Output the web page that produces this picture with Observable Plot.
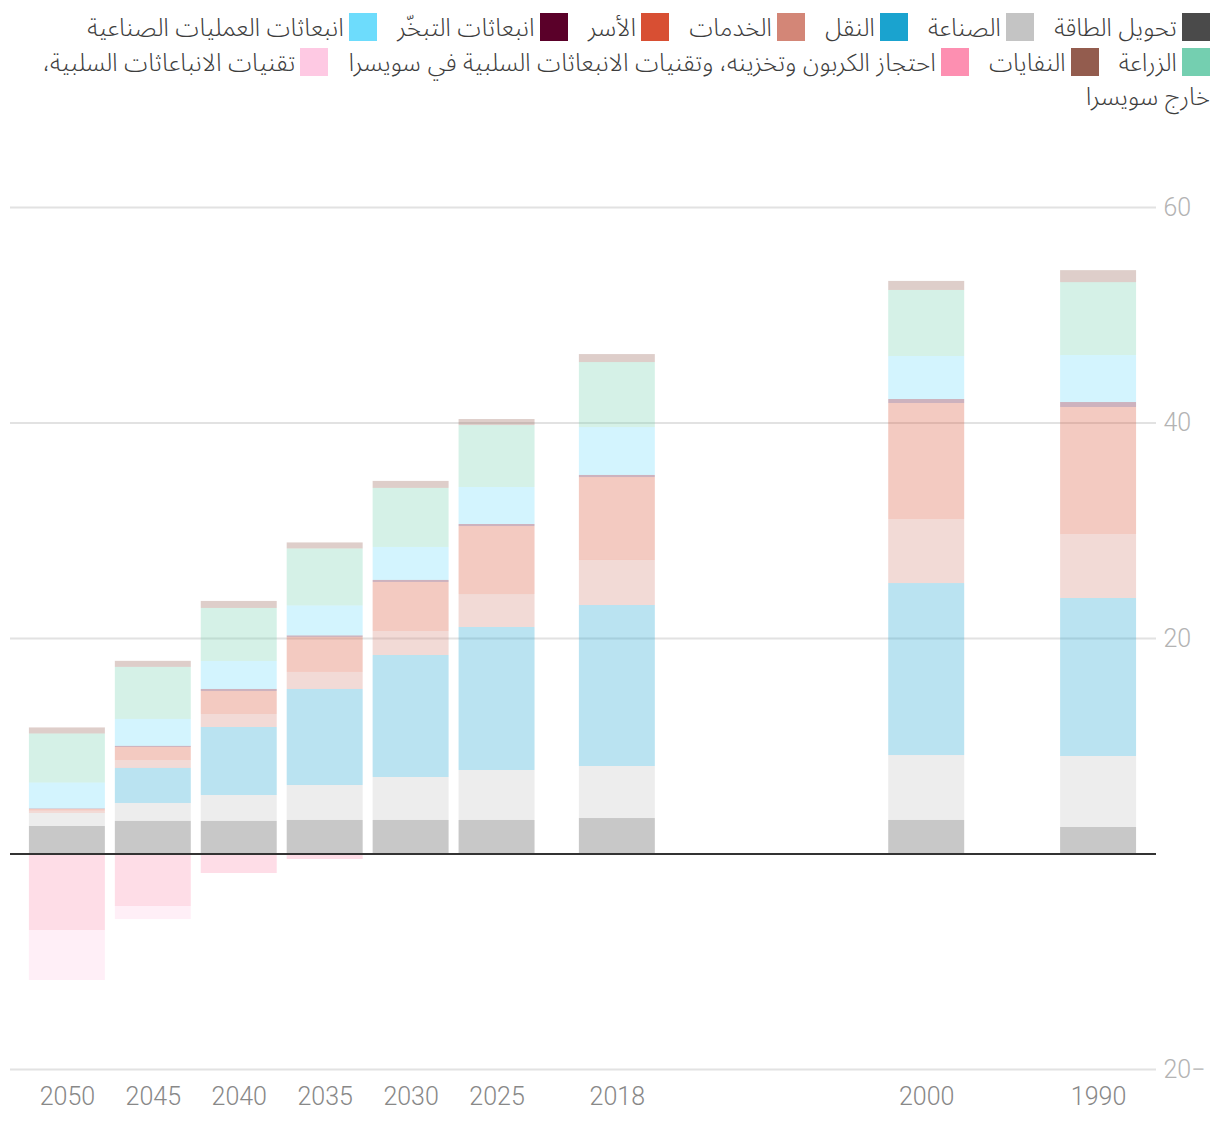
<!DOCTYPE html>
<html lang="ar">
<head>
<meta charset="utf-8">
<script src="https://cdn.jsdelivr.net/npm/d3@7"></script>
<script src="https://cdn.jsdelivr.net/npm/@observablehq/plot@0.6"></script>
<style>
  html, body { margin: 0; padding: 0; background: #fff; }
  #wrap { position: relative; width: 1220px; height: 1128px; overflow: hidden; }
  #legend {
    position: absolute; top: 11px; right: 10px; width: 1200px;
    direction: rtl; text-align: right;
    font-family: "Noto Sans Arabic", "Noto Sans", "DejaVu Sans", sans-serif;
    font-size: 24.5px; font-weight: 300; color: #3d3d3d; line-height: 34.5px;
  }
  #legend .sw { display: inline-block; width: 28px; height: 28px; vertical-align: middle; margin-left: 5px; position: relative; top: -2px; }
  #legend .item { margin-left: 20px; }
  #chart { position: absolute; top: 120px; left: 0; }
</style>
</head>
<body>
<div id="wrap">
  <div id="legend"></div>
  <div id="chart"></div>
</div>
<script>
// ---- data ----
const years = [2050, 2045, 2040, 2035, 2030, 2025, 2018, 2000, 1990];
const sectors = [
  "تحويل الطاقة",
  "الصناعة",
  "النقل",
  "الخدمات",
  "الأسر",
  "انبعاثات التبخّر",
  "انبعاثات العمليات الصناعية",
  "الزراعة",
  "النفايات",
  "احتجاز الكربون وتخزينه، وتقنيات الانبعاثات السلبية في سويسرا",
  "تقنيات الانباعاثات السلبية، خارج سويسرا"
];
const colors = ["#4a4a4a", "#c4c4c4", "#1aa3cf", "#d38677", "#d84f33", "#5a0029", "#6ddcfc", "#74cfb0", "#935c4e", "#fd8fb1", "#fec9e3"];

// values per sector, in the order of `years`
const energyValues     = [2.55, 3.02, 3.02, 3.11, 3.11, 3.11, 3.29, 3.11, 2.46];
const industryValues   = [1.21, 1.67, 2.41, 3.25, 3.99, 4.64, 4.83, 6.03, 6.59];
const transportValues  = [0.0, 3.25, 6.31, 8.91, 11.32, 13.27, 14.94, 15.96, 14.66];
const servicesValues   = [0.22, 0.74, 1.21, 1.58, 2.23, 3.06, 4.18, 5.94, 5.94];
const householdsValues = [0.15, 1.21, 2.13, 3.25, 4.55, 6.31, 7.70, 10.77, 11.79];
const evaporationValues= [0.05, 0.10, 0.19, 0.14, 0.19, 0.19, 0.19, 0.37, 0.46];
const processValues    = [2.41, 2.50, 2.60, 2.78, 3.06, 3.43, 4.45, 3.99, 4.36];
const agricultureValues= [4.55, 4.83, 4.92, 5.29, 5.48, 5.75, 6.03, 6.13, 6.77];
const wasteValues      = [0.56, 0.56, 0.65, 0.56, 0.65, 0.56, 0.74, 0.84, 1.11];
const ccsValues        = [-7.10, -4.87, -1.81, -0.51, 0, 0, 0, 0, 0];
const netAbroadValues  = [-4.64, -1.21, 0, 0, 0, 0, 0, 0, 0];

const yTicks = [-20, 20, 40, 60];

const seriesValues = [energyValues, industryValues, transportValues, servicesValues, householdsValues,
  evaporationValues, processValues, agricultureValues, wasteValues, ccsValues, netAbroadValues];

const data = [];
sectors.forEach((s, i) => {
  years.forEach((yr, j) => data.push({year: yr, sector: s, value: seriesValues[i][j]}));
});

// ---- legend ----
const legend = document.getElementById("legend");
const legendLines = [[0,1,2,3,4,5,6],[7,8,9,10]];
legendLines.forEach(line => {
  const div = document.createElement("div");
  line.forEach(i => {
    const item = document.createElement("span");
    item.className = "item";
    const sw = document.createElement("span");
    sw.className = "sw";
    sw.style.background = colors[i];
    item.appendChild(sw);
    item.appendChild(document.createTextNode(sectors[i]));
    div.appendChild(item);
  });
  legend.appendChild(div);
});

// ---- chart ----
const halfWidth = 2.21;
const chart = Plot.plot({
  width: 1220,
  height: 1008,
  marginLeft: 10,
  marginRight: 64,
  marginTop: 87,
  marginBottom: 59,
  style: {fontFamily: "Roboto, 'Noto Sans', sans-serif", fontSize: "25px", fontWeight: 300, background: "#fff"},
  x: {type: "linear", domain: [2053.31, 1986.63]},
  y: {domain: [-20, 60]},
  color: {domain: sectors, range: colors},
  marks: [
    Plot.gridY(yTicks, {stroke: "#e2e2e2", strokeOpacity: 1, strokeWidth: 2}),
    Plot.rectY(data, {
      x1: d => d.year - halfWidth,
      x2: d => d.year + halfWidth,
      y: "value",
      fill: "sector",
      fillOpacity: 0.3
    }),
    Plot.ruleY([0], {stroke: "#333", strokeWidth: 2}),
    Plot.axisY(yTicks, {
      anchor: "right", label: null, tickSize: 0, tickPadding: 7, textAnchor: "start",
      fill: "#b3b3b3",
      tickFormat: d => d < 0 ? `${Math.abs(d)}−` : `${d}`
    }),
    Plot.axisX(years, {
      label: null, tickSize: 0, tickPadding: 18, fill: "#888",
      tickFormat: d => String(d)
    })
  ]
});
document.getElementById("chart").appendChild(chart);
</script>
</body>
</html>
